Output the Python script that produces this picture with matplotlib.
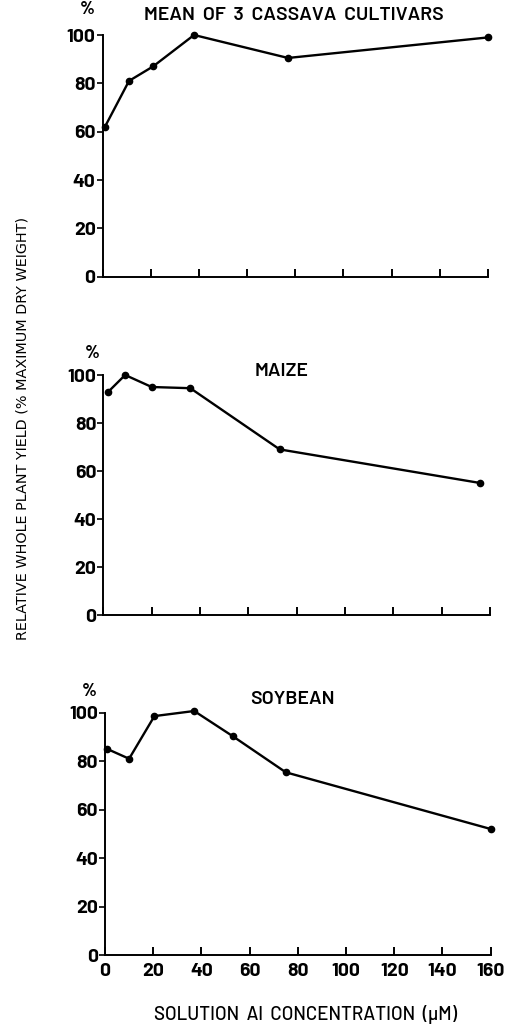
import matplotlib
matplotlib.use("Agg")
import matplotlib.pyplot as plt

plt.rcParams['font.family'] = ['Barlow', 'DejaVu Sans']

# Data
cassava_x = [1, 11, 21, 38, 77, 160]
cassava_y = [62, 81, 87, 100, 90.5, 99]
maize_x = [2, 9, 20, 36, 73, 156]
maize_y = [93, 100, 95, 94.5, 69, 55]
soy_x = [1, 10, 20.5, 37, 53, 75, 160]
soy_y = [85, 81, 98.6, 100.7, 90.3, 75.4, 52]

yticks = [0, 20, 40, 60, 80, 100]
xticks = [0, 20, 40, 60, 80, 100, 120, 140, 160]
titles = ["MEAN  OF  3  CASSAVA  CULTIVARS", "MAIZE", "SOYBEAN"]
ylabel = "RELATIVE WHOLE PLANT YIELD (% MAXIMUM DRY WEIGHT)"
xlabel = "SOLUTION  Al  CONCENTRATION  (\u03bcM)"

W, H = 519, 1026
fig = plt.figure(figsize=(W / 100, H / 100), dpi=100)

def px_axes(x0, x160, y0, y100):
    return fig.add_axes([x0 / W, 1 - y0 / H, (x160 - x0) / W, (y0 - y100) / H])

panels = [
    (px_axes(102.5, 488, 276.7, 35), cassava_x, cassava_y, titles[0], (294, 15)),
    (px_axes(103.4, 489.8, 615, 375), maize_x, maize_y, titles[1], (282, 372)),
    (px_axes(105, 490.7, 955, 712.7), soy_x, soy_y, titles[2], (292, 699)),
]
pct_pos = [(87, 9), (92, 353), (89, 691)]

tick_font = dict(family=['Barlow', 'DejaVu Sans'], weight=700, size=14)

for i, (ax, xs, ys, title, tpos) in enumerate(panels):
    ax.plot(xs, ys, color='black', lw=1.7, marker='o', ms=4.5, clip_on=False, zorder=3)
    ax.set_xlim(0, 160)
    ax.set_ylim(0, 100)
    for s in ['top', 'right']:
        ax.spines[s].set_visible(False)
    for s in ['left', 'bottom']:
        ax.spines[s].set_linewidth(1.4)
    ax.set_yticks(yticks)
    ax.set_yticklabels([str(v) for v in yticks], fontdict=tick_font)
    ax.set_xticks(xticks)
    ax.tick_params(axis='y', direction='out', length=4, width=1.2, pad=1)
    ax.tick_params(axis='x', direction='in', length=6, width=1.4, pad=6)
    if i < 2:
        ax.set_xticklabels([])
    else:
        ax.set_xticklabels([str(v) for v in xticks], fontdict=tick_font)
    fig.text(tpos[0] / W, 1 - tpos[1] / H, title, ha='center', va='center',
             family=['Barlow', 'DejaVu Sans'], weight=600, size=14)
    fig.text(pct_pos[i][0] / W, 1 - pct_pos[i][1] / H, "%", ha='center', va='center',
             family=['Barlow', 'DejaVu Sans'], weight=700, size=13)

fig.text(23 / W, 1 - 428 / H, ylabel, rotation=90, ha='center', va='center',
         family=['DejaVu Sans'], size=10.4)
fig.text(306 / W, 1 - 1015 / H, xlabel, ha='center', va='center',
         family=['Barlow', 'DejaVu Sans'], weight=500, size=13.5)

fig.savefig("out.png", dpi=100)
